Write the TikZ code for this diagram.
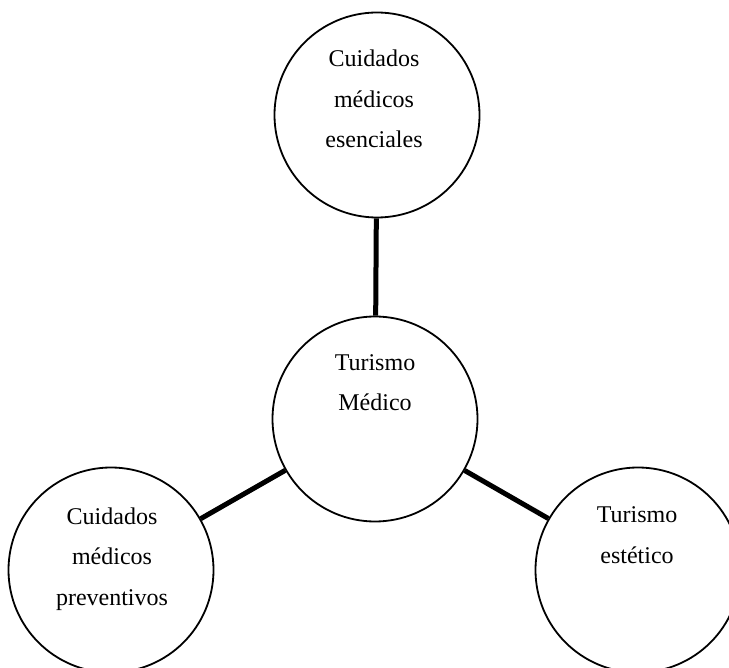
\documentclass[tikz,border=0pt]{standalone}
\usepackage{fontspec}
\setmainfont{Liberation Serif}
\begin{document}
\begin{tikzpicture}[x=1pt,y=-1pt,
  bubble/.style={circle,draw=black,line width=1.8pt,minimum size=205pt,inner sep=0pt,fill=white},
  ctext/.style={align=center,inner sep=0pt,anchor=base,font=\fontsize{24}{40.5}\selectfont},
  link/.style={line width=5pt,draw=black}]
\useasboundingbox (0,0) rectangle (729,668);
\node[bubble] (top) at (377,115) {};
\node[bubble] (mid) at (375,419) {};
\node[bubble] (left) at (111,570) {};
\node[bubble] (right) at (638,570) {};
\draw[link] (top) -- (mid);
\draw[link] (mid) -- (left);
\draw[link] (mid) -- (right);
\node[ctext] (ttop) at (374,148) {Cuidados\\médicos\\esenciales};
\node[ctext] (tmid) at (375,411) {Turismo\\Médico};
\node[ctext] (tleft) at (112,605) {Cuidados\\médicos\\preventivos};
\node[ctext] (tright) at (637,563) {Turismo\\estético};
\end{tikzpicture}
\end{document}
